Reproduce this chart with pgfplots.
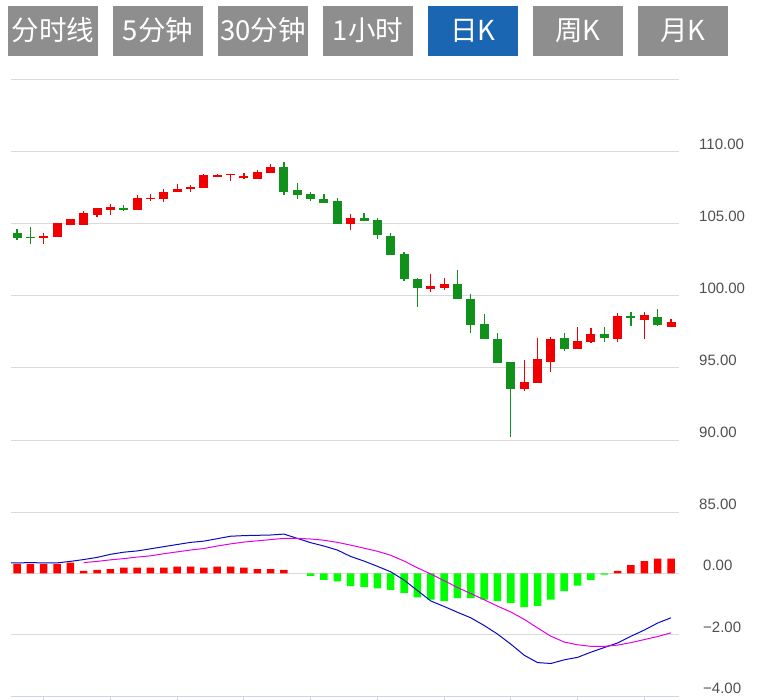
\documentclass[border=0pt]{standalone}
\usepackage{fontspec}
\setmainfont{Liberation Sans}
\newfontfamily\cjk{Noto Sans CJK SC}
\usepackage{pgfplots}
\usepackage{pgfplotstable}
\pgfplotsset{compat=1.18}

\definecolor{kred}{RGB}{240,0,0}
\definecolor{kgreen}{RGB}{17,145,28}
\definecolor{hred}{RGB}{255,0,0}
\definecolor{hgreen}{RGB}{0,255,0}
\definecolor{difblue}{RGB}{10,10,190}
\definecolor{deamag}{RGB}{230,0,230}
\definecolor{gridc}{RGB}{218,218,218}
\definecolor{axisc}{RGB}{204,214,235}
\definecolor{labc}{RGB}{80,80,80}
\definecolor{btngray}{RGB}{142,142,142}
\definecolor{btnblue}{RGB}{26,102,178}

% daily candles, rising (red)
\pgfplotstableread{
i o h l c
2 104.05 104.35 103.60 104.19
3 104.12 105.10 104.08 105.05
4 104.93 105.33 104.93 105.33
5 104.90 105.87 104.90 105.78
6 105.63 106.09 105.46 106.09
7 105.97 106.37 105.60 106.20
9 105.97 107.00 105.97 106.78
10 106.72 107.06 106.60 106.83
11 106.74 107.41 106.55 107.20
12 107.24 107.78 107.24 107.41
13 107.41 107.73 107.24 107.59
14 107.52 108.50 107.52 108.40
15 108.24 108.50 108.24 108.38
16 108.40 108.50 107.96 108.50
17 108.22 108.56 108.10 108.33
18 108.13 108.73 108.13 108.61
19 108.56 109.17 108.56 108.98
25 105.02 105.69 104.56 105.42
31 100.51 101.53 100.30 100.69
32 100.58 101.27 100.40 100.81
38 93.52 95.53 93.42 94.05
39 93.98 97.08 93.98 95.60
40 95.44 97.17 94.74 97.00
42 96.32 97.87 96.32 96.90
43 96.83 97.75 96.77 97.36
45 97.00 98.80 96.83 98.63
47 98.35 98.89 97.04 98.66
49 97.83 98.40 97.83 98.22
}\upk

% daily candles, falling (green)
\pgfplotstableread{
i o h l c
0 104.38 104.63 103.89 104.05
1 104.12 104.77 103.60 104.05
8 106.10 106.32 105.90 106.04
20 108.98 109.33 107.00 107.24
21 107.34 107.85 106.74 107.04
22 107.06 107.22 106.58 106.76
23 106.72 107.10 106.48 106.48
24 106.62 106.81 105.00 105.00
26 105.40 105.76 105.21 105.21
27 105.26 105.40 103.96 104.22
28 104.19 104.35 102.83 102.83
29 102.90 103.08 101.06 101.16
30 101.18 101.27 99.26 100.58
33 100.83 101.78 99.79 99.79
34 99.79 100.14 97.45 97.99
35 98.06 98.75 97.02 97.02
36 97.01 97.43 95.37 95.37
37 95.44 95.44 90.19 93.54
41 97.08 97.43 96.20 96.30
44 97.34 97.87 96.83 97.10
46 98.63 98.89 97.92 98.45
48 98.56 99.08 97.92 98.01
}\downk

% MACD histogram
\pgfplotstableread{
i v
0 0.31
1 0.31
2 0.31
3 0.31
4 0.35
5 0.08
6 0.11
7 0.14
8 0.19
9 0.19
10 0.19
11 0.19
12 0.22
13 0.22
14 0.19
15 0.22
16 0.22
17 0.19
18 0.14
19 0.14
20 0.11
45 0.08
46 0.27
47 0.40
48 0.48
49 0.48
}\histup

\pgfplotstableread{
i v
22 -0.08
23 -0.21
24 -0.26
25 -0.42
26 -0.45
27 -0.49
28 -0.54
29 -0.64
30 -0.78
31 -0.86
32 -0.91
33 -0.81
34 -0.81
35 -0.86
36 -0.91
37 -0.97
38 -1.10
39 -1.06
40 -0.86
41 -0.58
42 -0.40
43 -0.22
44 -0.04
}\histdn

\pgfplotstableread{
i d
-1 0.34
0 0.34
1 0.35
2 0.34
3 0.34
4 0.39
5 0.45
6 0.52
7 0.62
8 0.69
9 0.73
10 0.80
11 0.87
12 0.94
13 1.01
14 1.05
15 1.13
16 1.21
17 1.23
18 1.24
19 1.25
20 1.28
21 1.14
22 1.00
23 0.89
24 0.76
25 0.55
26 0.40
27 0.23
28 0.05
29 -0.22
30 -0.56
31 -0.90
32 -1.08
33 -1.27
34 -1.45
35 -1.70
36 -1.98
37 -2.31
38 -2.67
39 -2.91
40 -2.94
41 -2.82
42 -2.74
43 -2.57
44 -2.42
45 -2.27
46 -2.05
47 -1.85
48 -1.62
49 -1.45
}\dif

\pgfplotstableread{
i d
5 0.35
6 0.39
7 0.44
8 0.48
9 0.53
10 0.57
11 0.64
12 0.70
13 0.76
14 0.81
15 0.89
16 0.96
17 1.02
18 1.06
19 1.10
20 1.14
21 1.14
22 1.12
23 1.08
24 1.01
25 0.92
26 0.82
27 0.72
28 0.59
29 0.40
30 0.18
31 -0.02
32 -0.24
33 -0.46
34 -0.66
35 -0.86
36 -1.07
37 -1.26
38 -1.50
39 -1.78
40 -2.05
41 -2.24
42 -2.33
43 -2.38
44 -2.38
45 -2.34
46 -2.26
47 -2.16
48 -2.06
49 -1.94
}\dea

\pgfplotsset{
  panel/.style={
    scale only axis, width=668pt, xmin=-0.45, xmax=49.6,
    ymajorgrids, major grid style={gridc, line width=1pt},
    yticklabel pos=right,
    yticklabel style={anchor=south west, inner sep=0pt, xshift=20pt, yshift=2pt,
      font=\fontsize{15}{18}\selectfont, text=labc},
    ytick style={draw=none},
  },
  wick/.style={draw=none, mark=none, error bars/.cd, y dir=both, y explicit,
    error mark=none, error bar style={draw=#1, line width=1.2pt}},
  body/.style={draw=none, mark=none, error bars/.cd, y dir=both, y explicit,
    error mark=none, error bar style={draw=#1, line width=9pt}},
}

\begin{document}
\begin{tikzpicture}[x=1pt,y=1pt]
\useasboundingbox (0,0) rectangle (767,699);
\fill[white] (0,0) rectangle (767,699);

% period buttons
\foreach \bx/\bt/\bc in {8/分时线/btngray, 113/5分钟/btngray, 218/30分钟/btngray,
  323/1小时/btngray, 428/日K/btnblue, 533/周K/btngray, 638/月K/btngray}{
  \fill[\bc] (\bx,643) rectangle ++(90,50);
  \node[text=white, font=\cjk\fontsize{27.5}{30}\selectfont] at (\bx+45,668.5) {\bt};
}

% price panel
\begin{axis}[panel, at={(11pt,187pt)}, anchor=south west, height=432pt,
  ymin=85, ymax=115, ytick={85,90,...,115},
  yticklabels={85.00,90.00,95.00,100.00,105.00,110.00,{}},
  xtick=\empty, axis line style={draw=none}]
\addplot[wick=kred] table[x=i, y expr={(\thisrow{h}+\thisrow{l})/2},
  y error expr={(\thisrow{h}-\thisrow{l})/2}] {\upk};
\addplot[wick=kgreen] table[x=i, y expr={(\thisrow{h}+\thisrow{l})/2},
  y error expr={(\thisrow{h}-\thisrow{l})/2}] {\downk};
\addplot[body=kred] table[x=i, y expr={(\thisrow{o}+\thisrow{c})/2},
  y error expr={abs(\thisrow{c}-\thisrow{o})/2}] {\upk};
\addplot[body=kgreen] table[x=i, y expr={(\thisrow{o}+\thisrow{c})/2},
  y error expr={abs(\thisrow{c}-\thisrow{o})/2}] {\downk};
\end{axis}

% MACD panel
\begin{axis}[panel, at={(11pt,3pt)}, anchor=south west, height=184pt,
  ymin=-4, ymax=2, ytick={-4,-2,0},
  yticklabels={−4.00,−2.00,0.00},
  axis x line*=bottom, axis y line*=right,
  x axis line style={axisc, line width=1pt, -},
  y axis line style={draw=none},
  xtick={2,7,...,47}, xticklabels={},
  xtick style={axisc, line width=1pt},
  tick align=outside, major tick length=4pt]
\addplot[ybar, bar width=7.5pt, bar shift=0pt, fill=hred, draw=none] table[x=i, y=v] {\histup};
\addplot[ybar, bar width=7.5pt, bar shift=0pt, fill=hgreen, draw=none] table[x=i, y=v] {\histdn};
\addplot[difblue, line width=1pt, mark=none] table[x=i, y=d] {\dif};
\addplot[deamag, line width=1pt, mark=none] table[x=i, y=d] {\dea};
\end{axis}
\end{tikzpicture}
\end{document}
